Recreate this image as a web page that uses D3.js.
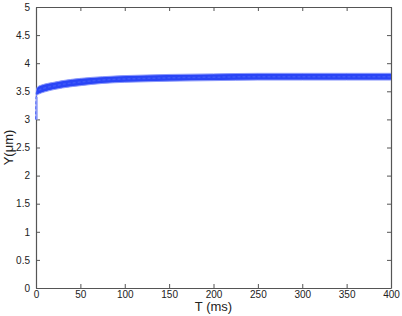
<!DOCTYPE html>
<html>
<head>
<meta charset="utf-8">
<script src="https://cdn.jsdelivr.net/npm/d3@7"></script>
<style>
  body { margin: 0; background: #fff; }
  text { font-family: "Liberation Sans", Arial, sans-serif; fill: #222; }
</style>
</head>
<body>
<svg id="chart" width="402" height="316"></svg>
<script>
// values
var times = [0, 0.5, 1, 3, 6, 10, 20, 30, 50, 75, 100, 125, 150, 200, 250, 300, 350, 400];
var upperY = [3.0, 3.52, 3.56, 3.59, 3.61, 3.63, 3.66, 3.69, 3.73, 3.76, 3.78, 3.79, 3.80, 3.81, 3.82, 3.82, 3.82, 3.82];
var lowerY = [3.0, 3.40, 3.43, 3.45, 3.47, 3.49, 3.53, 3.56, 3.60, 3.64, 3.66, 3.67, 3.68, 3.69, 3.70, 3.70, 3.70, 3.70];
var xTicks = [0, 50, 100, 150, 200, 250, 300, 350, 400];
var yTicks = [0, 0.5, 1, 1.5, 2, 2.5, 3, 3.5, 4, 4.5, 5];

var svg = d3.select("#chart");
var pLeft = 36, pRight = 391, pTop = 7, pBottom = 288;

var x = d3.scaleLinear().domain([0, 400]).range([pLeft, pRight]);
var y = d3.scaleLinear().domain([0, 5]).range([pBottom, pTop]);

var data = times.map(function(t, i) {
    return {t: t, lo: lowerY[i], hi: upperY[i], mid: (lowerY[i] + upperY[i]) / 2};
});

// axes, MATLAB style box with inward ticks
var axisColor = "#555";
var gx = svg.append("g").attr("transform", "translate(0," + pBottom + ")")
    .call(d3.axisBottom(x).tickValues(xTicks).tickSizeInner(-4).tickSizeOuter(0).tickPadding(3));
var gxt = svg.append("g").attr("transform", "translate(0," + pTop + ")")
    .call(d3.axisTop(x).tickValues(xTicks).tickSizeInner(-4).tickSizeOuter(0).tickFormat(""));
var gy = svg.append("g").attr("transform", "translate(" + pLeft + ",0)")
    .call(d3.axisLeft(y).tickValues(yTicks).tickSizeInner(-4).tickSizeOuter(0).tickPadding(6)
        .tickFormat(function(d) { return String(d); }));
var gyr = svg.append("g").attr("transform", "translate(" + pRight + ",0)")
    .call(d3.axisRight(y).tickValues(yTicks).tickSizeInner(-4).tickSizeOuter(0).tickFormat(""));

[gx, gxt, gy, gyr].forEach(function(g) {
    g.select(".domain").attr("stroke", axisColor).attr("stroke-width", 1.2);
    g.selectAll(".tick line").attr("stroke", axisColor);
    g.selectAll(".tick text").attr("font-size", 10).attr("fill", "#222")
        .attr("font-family", "Liberation Sans, Arial, sans-serif");
});

// band of trajectories (drawn over the axes, like the original)
var area = d3.area()
    .x(function(d) { return x(d.t); })
    .y0(function(d) { return y(d.lo); })
    .y1(function(d) { return y(d.hi); })
    .curve(d3.curveMonotoneX);
svg.append("path").datum(data)
    .attr("d", area)
    .attr("fill", "#2a45f6");

var edge = function(key) {
    return d3.line()
        .x(function(d) { return x(d.t); })
        .y(function(d) { return y(d[key]); })
        .curve(d3.curveMonotoneX);
};
["hi", "lo"].forEach(function(k) {
    svg.append("path").datum(data)
        .attr("d", edge(k))
        .attr("fill", "none")
        .attr("stroke", "#8a98fb")
        .attr("stroke-width", 1);
});
svg.append("path").datum(data)
    .attr("d", edge("mid"))
    .attr("fill", "none")
    .attr("stroke", "#3d58f7")
    .attr("stroke-width", 1.5)
    .attr("stroke-dasharray", "3,2");

// initial rise from the starting value, thin and pale
svg.append("line")
    .attr("x1", x(times[0]) + 1).attr("x2", x(times[0]) + 1)
    .attr("y1", y(lowerY[0])).attr("y2", y(lowerY[1]))
    .attr("stroke", "#9aa6fb").attr("stroke-width", 1.5);

svg.append("text")
    .attr("x", (pLeft + pRight) / 2).attr("y", 311)
    .attr("text-anchor", "middle").attr("font-size", 13)
    .text("T (ms)");
svg.append("text")
    .attr("transform", "translate(13," + ((pTop + pBottom) / 2) + ") rotate(-90)")
    .attr("text-anchor", "middle").attr("font-size", 13)
    .text("Y(μm)");
</script>
</body>
</html>
